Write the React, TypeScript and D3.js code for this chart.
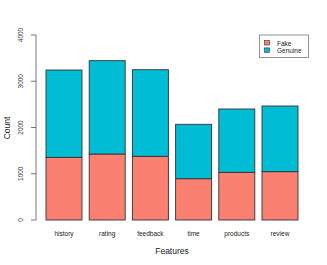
import React from 'react';
import * as d3 from 'd3';

const features = ['history', 'rating', 'feedback', 'time', 'products', 'review'];
const fakeCounts = [1355, 1427, 1377, 893, 1031, 1045];
const genuineCounts = [1888, 2018, 1873, 1176, 1369, 1420];
const yTicks = [0, 1000, 2000, 3000, 4000];
const seriesNames = ['Fake', 'Genuine'];
const seriesColors = ['#FA8072', '#00BCD4'];

const width = 327;
const height = 265;
const font = 'Liberation Sans, Arial, sans-serif';

const App: React.FC = () => {
  const x = d3.scaleBand<string>()
    .domain(features)
    .range([42.4, 301.6])
    .paddingInner(0.1667)
    .paddingOuter(0.0833);

  const y = d3.scaleLinear().domain([0, 4000]).range([220, 35]);

  const rows = features.map((f, i) => ({ feature: f, fake: fakeCounts[i], genuine: genuineCounts[i] }));
  const stacked = d3.stack<any>().keys(['fake', 'genuine'])(rows);

  return (
    <svg width={width} height={height} style={{ position: 'absolute', left: 0, top: 0 }}>
      <rect width={width} height={height} fill="#fff" />
      {stacked.map((layer, li) => (
        <g key={layer.key}>
          {layer.map((d, i) => (
            <rect
              key={i}
              x={x(features[i])}
              width={x.bandwidth()}
              y={y(d[1])}
              height={y(d[0]) - y(d[1])}
              fill={seriesColors[li]}
              stroke="#333"
              strokeWidth={0.9}
            />
          ))}
        </g>
      ))}

      {/* y axis */}
      <line x1={36} x2={36} y1={y(4000)} y2={y(0)} stroke="#555" strokeWidth={0.8} />
      {yTicks.map(t => (
        <g key={t}>
          <line x1={31} x2={36} y1={y(t)} y2={y(t)} stroke="#555" strokeWidth={0.8} />
          <text
            transform={`translate(23,${y(t)}) rotate(-90)`}
            textAnchor="middle"
            fontSize={6.5}
            fontFamily={font}
            fill="#333"
          >{t}</text>
        </g>
      ))}
      <text transform={`translate(10,128) rotate(-90)`} textAnchor="middle" fontSize={8.5} fontFamily={font} fill="#222">Count</text>

      {/* x labels */}
      {features.map(f => (
        <text key={f} x={(x(f) ?? 0) + x.bandwidth() / 2} y={236} textAnchor="middle" fontSize={6.5} fontFamily={font} fill="#222">{f}</text>
      ))}
      <text x={172} y={254} textAnchor="middle" fontSize={8.5} fontFamily={font} fill="#222">Features</text>

      {/* legend */}
      <rect x={259.5} y={35} width={49} height={22.5} fill="#fff" stroke="#777" strokeWidth={0.8} />
      {seriesNames.map((s, i) => (
        <g key={s}>
          <rect x={264.5} y={40.5 + i * 7.4} width={5} height={4.5} fill={seriesColors[i]} stroke="#333" strokeWidth={0.6} />
          <text x={277} y={45.5 + i * 7.4} fontSize={6.5} fontFamily={font} fill="#222">{s}</text>
        </g>
      ))}
    </svg>
  );
};

export default App;
